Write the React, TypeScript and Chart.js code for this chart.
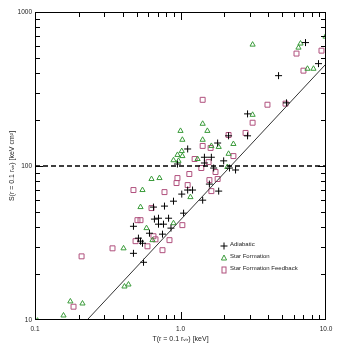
import React, { useEffect, useRef } from "react";
import { Chart, registerables } from "chart.js";
Chart.register(...registerables);

// ---- data (T in keV, S in keV cm^2) ----
const seriesNames = ["Adiabatic", "Star Formation", "Star Formation Feedback"];

const adiabaticT = [7.23, 8.88, 4.72, 5.35, 2.89, 2.14, 2.89, 1.80, 1.12, 1.46, 1.63, 0.953, 1.46, 1.98, 1.69, 2.17, 2.39, 1.58, 1.02, 1.12, 1.21, 1.83, 0.895, 1.42, 0.776, 0.652, 1.05, 0.662, 0.706, 0.828, 0.706, 0.764, 0.475, 0.86, 0.612, 0.752, 0.514, 0.531, 0.548, 0.475, 0.557];
const adiabaticS = [633, 462, 386, 257, 218, 157, 157, 141, 129, 114, 114, 103, 104.6, 108, 97, 97, 94.2, 76.3, 65.7, 69.8, 69.8, 68.7, 59.1, 60.0, 54.9, 54.1, 49.4, 45.2, 45.8, 45.8, 41.9, 41.9, 40.6, 39.5, 36.6, 36.1, 34.0, 32.5, 31.5, 27.1, 23.7];

const starFormT = [3.13, 6.47, 6.68, 9.92, 7.46, 8.20, 3.13, 1.42, 1.0, 1.53, 1.03, 1.42, 1.83, 1.63, 2.31, 1.02, 0.953, 1.03, 2.14, 1.31, 0.895, 0.969, 2.10, 0.632, 0.717, 0.548, 1.17, 0.531, 0.895, 0.584, 0.642, 0.406, 0.412, 0.439, 0.175, 0.212, 0.157, 0.104];
const starFormS = [614, 587, 624, 692, 428, 428, 215, 188, 169, 169, 148, 148, 133, 135, 139, 125, 118, 116, 120, 111, 109, 108, 98.5, 82.3, 83.5, 69.8, 62.8, 54.1, 42.5, 39.5, 33.0, 29.2, 16.5, 17.0, 13.2, 12.8, 10.7, 9.9];

const feedbackT = [6.27, 9.31, 7.00, 1.42, 3.96, 5.27, 3.13, 2.14, 2.80, 1.42, 1.61, 2.31, 1.25, 1.56, 1.39, 1.74, 1.15, 0.953, 1.80, 0.939, 1.58, 1.12, 0.475, 0.776, 1.63, 0.632, 0.506, 0.531, 1.03, 0.652, 0.673, 0.491, 0.840, 0.593, 0.341, 0.752, 0.209, 0.184, 0.233];
const feedbackS = [537, 561, 416, 269, 250, 254, 191, 159, 164, 135, 131, 116, 111, 106, 97, 91.4, 88.7, 83.5, 82.3, 77.5, 81.0, 75.2, 69.8, 67.7, 68.7, 53.3, 44.5, 44.5, 41.3, 35.0, 33.4, 32.5, 33.0, 30.1, 29.2, 28.4, 25.9, 12.2, 9.6];

const fitT = [0.228, 10];
const fitS = [10, 460];
const refT = [0.1, 10];
const refS = [100, 100];

const xMin = 0.1;
const xMax = 10;
const yMin = 10;
const yMax = 1000;
const xTicks = [0.1, 0.2, 0.3, 0.4, 0.5, 0.6, 0.7, 0.8, 0.9, 1, 2, 3, 4, 5, 6, 7, 8, 9, 10];
const xMajorValues = [0.1, 1, 10];
const xMajorLabels = ["0.1", "1.0", "10.0"];
const yTicks = [10, 20, 30, 40, 50, 60, 70, 80, 90, 100, 200, 300, 400, 500, 600, 700, 800, 900, 1000];
const yMajorValues = [10, 100, 1000];
const yMajorLabels = ["10", "100", "1000"];

const xTitle = "T(r = 0.1 r\u1D65\u1D62\u1D63) [keV]";
const yTitle = "S(r = 0.1 r\u1D65\u1D62\u1D63) [keV cm\u00B2]";

const GREEN = "#3a9b3a";
const PINK = "#b0507d";
const FONT = "'Liberation Sans', Arial, sans-serif";

const zip = (a: number[], b: number[]) => a.map((v, i) => ({ x: v, y: b[i] }));

const frameTicks = {
  id: "frameTicks",
  afterDraw(chart: any) {
    const ctx = chart.ctx;
    const { left, right, top, bottom } = chart.chartArea;
    ctx.save();
    ctx.setLineDash([]);
    ctx.fillStyle = "#000";
    const L = Math.round(left), R = Math.round(right), T = Math.round(top), B = Math.round(bottom);
    const xPix = (v: number) => {
      const s = chart.scales.x;
      const p = s && s.getPixelForValue ? s.getPixelForValue(v) : NaN;
      if (Number.isFinite(p)) return p;
      return left + ((Math.log10(v) - Math.log10(xMin)) / (Math.log10(xMax) - Math.log10(xMin))) * (right - left);
    };
    const yPix = (v: number) => {
      const s = chart.scales.y;
      const p = s && s.getPixelForValue ? s.getPixelForValue(v) : NaN;
      if (Number.isFinite(p)) return p;
      return bottom - ((Math.log10(v) - Math.log10(yMin)) / (Math.log10(yMax) - Math.log10(yMin))) * (bottom - top);
    };
    // frame
    ctx.fillRect(L, T, R - L, 1);
    ctx.fillRect(L, B - 1, R - L, 1);
    ctx.fillRect(L, T, 1, B - T);
    ctx.fillRect(R - 1, T, 1, B - T);
    // inward ticks on all four sides
    for (let i = 0; i < xTicks.length; i++) {
      const v = xTicks[i];
      const p = Math.max(L, Math.min(Math.round(xPix(v)), R - 1));
      const len = xMajorValues.indexOf(v) >= 0 ? 8 : 5;
      ctx.fillRect(p, B - len, 1, len);
      ctx.fillRect(p, T, 1, len);
    }
    for (let i = 0; i < yTicks.length; i++) {
      const v = yTicks[i];
      const p = Math.max(T, Math.min(Math.round(yPix(v)), B - 1));
      const len = yMajorValues.indexOf(v) >= 0 ? 8 : 5;
      ctx.fillRect(L, p, len, 1);
      ctx.fillRect(R - len, p, len, 1);
    }

    // legend
    const lx = 224;
    const ly = [246, 258, 270];
    ctx.lineWidth = 1;
    ctx.strokeStyle = "#000";
    ctx.beginPath();
    ctx.moveTo(lx - 3.5, ly[0]);
    ctx.lineTo(lx + 3.5, ly[0]);
    ctx.moveTo(lx, ly[0] - 3.5);
    ctx.lineTo(lx, ly[0] + 3.5);
    ctx.stroke();
    ctx.strokeStyle = GREEN;
    ctx.beginPath();
    ctx.moveTo(lx, ly[1] - 3);
    ctx.lineTo(lx + 2.6, ly[1] + 2);
    ctx.lineTo(lx - 2.6, ly[1] + 2);
    ctx.closePath();
    ctx.stroke();
    ctx.strokeStyle = PINK;
    ctx.strokeRect(lx - 2, ly[2] - 3, 4, 6);
    ctx.fillStyle = "#222";
    ctx.font = `6px ${FONT}`;
    ctx.textBaseline = "middle";
    ctx.textAlign = "left";
    seriesNames.forEach((n, i) => ctx.fillText(n, lx + 6, ly[i] - 1.5));
    ctx.restore();
  },
};

export default function App() {
  const ref = useRef<HTMLCanvasElement>(null);
  useEffect(() => {
    if (!ref.current) return;
    const chart = new Chart(ref.current, {
      type: "scatter",
      data: {
        datasets: [
          {
            label: "ref",
            data: zip(refT, refS),
            showLine: true,
            borderColor: "#000",
            borderWidth: 1.5,
            borderDash: [5, 3],
            pointRadius: 0,
          },
          {
            label: "fit",
            data: zip(fitT, fitS),
            showLine: true,
            borderColor: "#333",
            borderWidth: 1,
            pointRadius: 0,
          },
          {
            label: seriesNames[0],
            data: zip(adiabaticT, adiabaticS),
            pointStyle: "cross",
            pointRadius: 3.5,
            borderColor: "#000",
            borderWidth: 1,
            backgroundColor: "transparent",
          },
          {
            label: seriesNames[1],
            data: zip(starFormT, starFormS),
            pointStyle: "triangle",
            pointRadius: 3,
            borderColor: GREEN,
            borderWidth: 1,
            backgroundColor: "transparent",
          },
          {
            label: seriesNames[2],
            data: zip(feedbackT, feedbackS),
            pointStyle: "rect",
            pointRadius: 3.5,
            borderColor: PINK,
            borderWidth: 1,
            backgroundColor: "transparent",
          },
        ],
      },
      options: {
        animation: false,
        responsive: false,
        devicePixelRatio: 1,
        layout: { padding: { top: 12, right: 20, left: 0, bottom: 0 } },
        plugins: { legend: { display: false }, tooltip: { enabled: false } },
        scales: {
          x: {
            type: "logarithmic",
            min: xMin,
            max: xMax,
            grid: { display: false, drawTicks: false },
            border: { display: false },
            afterBuildTicks: (axis: any) => {
              axis.ticks = xTicks.map((v) => ({ value: v }));
            },
            afterFit: (axis: any) => {
              axis.height = 26;
            },
            ticks: {
              autoSkip: false,
              maxRotation: 0,
              padding: 5,
              color: "#222",
              font: { size: 6.5, family: FONT },
              callback: (v: any) => {
                const i = xMajorValues.indexOf(Number(v));
                return i >= 0 ? xMajorLabels[i] : "";
              },
            },
            title: {
              display: true,
              text: xTitle,
              color: "#222",
              font: { size: 7, family: FONT },
              padding: { top: 0, bottom: 3 },
            },
          },
          y: {
            type: "logarithmic",
            min: yMin,
            max: yMax,
            grid: { display: false, drawTicks: false },
            border: { display: false },
            afterBuildTicks: (axis: any) => {
              axis.ticks = yTicks.map((v) => ({ value: v }));
            },
            afterFit: (axis: any) => {
              axis.width = 35;
            },
            ticks: {
              autoSkip: false,
              padding: 3,
              color: "#222",
              font: { size: 6.5, family: FONT },
              callback: (v: any) => {
                const i = yMajorValues.indexOf(Number(v));
                return i >= 0 ? yMajorLabels[i] : "";
              },
            },
            title: {
              display: true,
              text: yTitle,
              color: "#222",
              font: { size: 7, family: FONT },
              padding: { top: 8, bottom: 0 },
            },
          },
        },
      },
      plugins: [frameTicks],
    } as any);
    return () => chart.destroy();
  }, []);
  return (
    <div style={{ position: "absolute", left: 0, top: 0, width: 346, height: 346, background: "#fff" }}>
      <canvas ref={ref} width={346} height={346} style={{ display: "block" }} />
    </div>
  );
}
